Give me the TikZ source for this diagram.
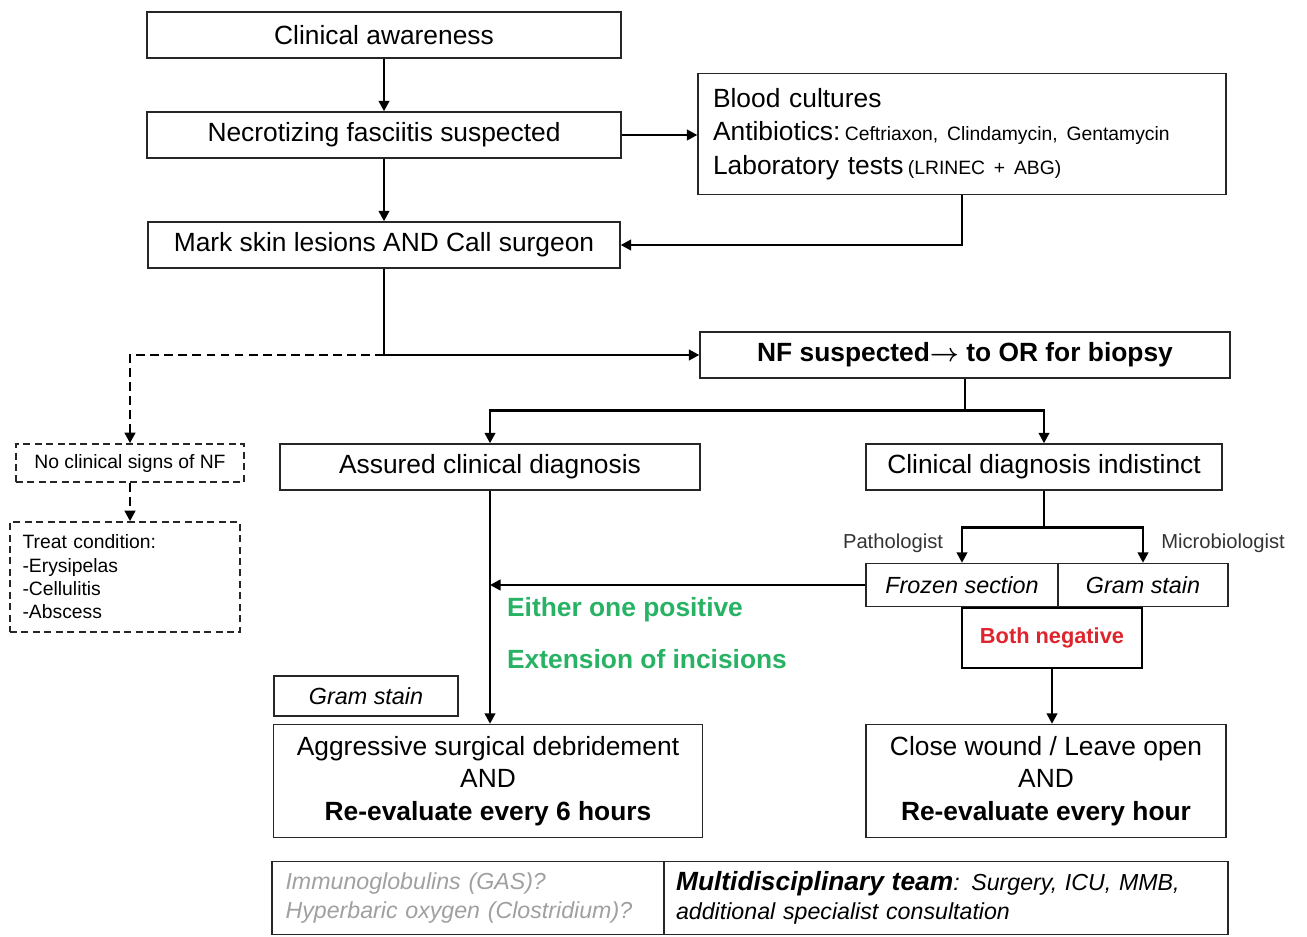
\documentclass[tikz,border=0pt]{standalone}
\usepackage{fontspec}
\setmainfont{Liberation Sans}
\usepackage{tikz}
\usetikzlibrary{positioning}
\usetikzlibrary{arrows.meta}
\usepackage{xcolor}

\definecolor{okgreen}{RGB}{40,178,100}
\definecolor{negred}{RGB}{222,36,44}
\definecolor{softgrey}{RGB}{160,160,160}

\tikzset{
    flowbox/.style={draw=black!85, rectangle, line width=0.8pt, align=center, inner sep=2pt,
        font=\fontsize{15}{18.5}\selectfont},
    dashbox/.style={flowbox, dashed, dash pattern=on 4pt off 2.5pt, line width=0.9pt,
        font=\fontsize{11}{13.3}\selectfont},
    link/.style={-{Triangle[length=6pt,width=6pt]}, line width=1.4pt},
    dashlink/.style={link, dashed, dash pattern=on 5pt off 3pt},
    tag/.style={font=\fontsize{11.5}{13}\selectfont, text=black!80},
    verdict/.style={font=\bfseries\fontsize{15}{18}\selectfont, text=okgreen}
}

\begin{document}
\begin{tikzpicture}[x=0.02cm, y=-0.02cm]
            \useasboundingbox (0,0) rectangle (1307,936);
            % Initial assessment
            \node[flowbox, minimum width=9.48cm, minimum height=0.92cm] (clinical) at (384,35) {Clinical awareness};
            \node[flowbox, minimum width=9.48cm, minimum height=0.92cm] (suspected) at (384,135) {Necrotizing fasciitis suspected};
            \node[flowbox, minimum width=10.56cm, minimum height=2.24cm, text width=9.96cm, align=left, inner sep=0.3cm,
                font=\fontsize{15}{19}\selectfont] (workup) at (962,134)
                {Blood cultures\\Antibiotics:\,{\fontsize{11}{13}\selectfont Ceftriaxon, Clindamycin, Gentamycin}\\Laboratory tests\,{\fontsize{11}{13}\selectfont (LRINEC + ABG)}};
            \node[flowbox, minimum width=9.44cm, minimum height=0.92cm] (mark) at (384,245) {Mark skin lesions AND Call surgeon};
            \node[flowbox, minimum width=10.6cm, minimum height=0.92cm, font=\bfseries\fontsize{15}{18}\selectfont] (biopsy) at (965,355) {NF suspected{\boldmath$\rightarrow$} to OR for biopsy};

            % Alternative diagnosis
            \node[dashbox, minimum width=4.56cm, minimum height=0.76cm] (nosigns) at (130,463) {No clinical signs of NF};
            \node[dashbox, minimum width=4.6cm, minimum height=2.2cm, text width=4.1cm, align=left] (treat) at (125,577)
                {Treat condition:\\-Erysipelas\\-Cellulitis\\-Abscess};

            % Diagnosis in theatre
            \node[flowbox, minimum width=8.4cm, minimum height=0.92cm] (assured) at (490,467) {Assured clinical diagnosis};
            \node[flowbox, minimum width=7.12cm, minimum height=0.92cm] (indistinct) at (1044,467) {Clinical diagnosis indistinct};
            \node[flowbox, minimum width=3.84cm, minimum height=0.86cm, font=\itshape\fontsize{13.3}{16}\selectfont] (frozen) at (962,585) {Frozen section};
            \node[flowbox, minimum width=3.4cm, minimum height=0.86cm, font=\itshape\fontsize{13.3}{16}\selectfont] (gram) at (1143,585) {Gram stain};
            \node[draw, rectangle, line width=1.4pt, minimum width=3.6cm, minimum height=1.2cm,
                font=\bfseries\fontsize{12.4}{15}\selectfont, text=negred] (bothneg) at (1052,638) {Both negative};
            \node[tag] (patho) at (893,543) {Pathologist};
            \node[tag] (micro) at (1223,543) {Microbiologist};
            \node[verdict] (positive) at (625,610) {Either one positive};
            \node[verdict] (incision) at (647,659) {Extension of incisions};

            % Treatment
            \node[flowbox, minimum width=3.68cm, minimum height=0.8cm, font=\itshape\fontsize{13.3}{16}\selectfont] (gramleft) at (366,696) {Gram stain};
            \node[flowbox, minimum width=8.58cm, minimum height=2.26cm] (debride) at (488,781)
                {Aggressive surgical debridement\\AND\\\textbf{Re-evaluate every 6 hours}};
            \node[flowbox, minimum width=7.2cm, minimum height=2.26cm] (closewound) at (1046,781)
                {Close wound / Leave open\\AND\\\textbf{Re-evaluate every hour}};
            \node[flowbox, minimum width=7.84cm, minimum height=1.46cm, text width=7.3cm, align=left,
                font=\itshape\fontsize{13.2}{16.4}\selectfont, text=softgrey] (adjunct) at (468,898)
                {Immunoglobulins (GAS)?\\Hyperbaric oxygen (Clostridium)?};
            \node[flowbox, minimum width=11.28cm, minimum height=1.46cm, text width=10.8cm, align=left,
                font=\itshape\fontsize{13.2}{16.4}\selectfont] (team) at (946,898)
                {{\bfseries\fontsize{15}{16.4}\selectfont Multidisciplinary team}: Surgery, ICU, MMB,\\additional specialist consultation};

            \draw[link] (clinical) -- (suspected);
            \draw[link] (suspected.east) -- (suspected.east -| workup.west);
            \draw[link] (suspected) -- (mark);
            \draw[link] (workup.south) |- (mark.east);
            \draw[link] (mark.south) |- (biopsy.west);
            \draw[dashlink] (mark.south |- biopsy.west) -| (nosigns.north);
            \draw[dashlink] (nosigns.south) -- (nosigns.south |- treat.north);

            \draw[line width=1.4pt] (biopsy.south) -- ++(0,32) coordinate (split1);
            \draw[link] (split1) -| (assured.north);
            \draw[link] (split1) -| (indistinct.north);
            \draw[line width=1.4pt] (indistinct.south) -- ++(0,37) coordinate (split2);
            \draw[link] (split2) -| (frozen.north);
            \draw[link] (split2) -| (gram.north);
            \draw[link] (frozen.west) -- (frozen.west -| assured.south);
            \draw[link] (assured.south) -- (assured.south |- debride.north);
            \draw[link] (bothneg.south) -- (bothneg.south |- closewound.north);
        \end{tikzpicture}
\end{document}
